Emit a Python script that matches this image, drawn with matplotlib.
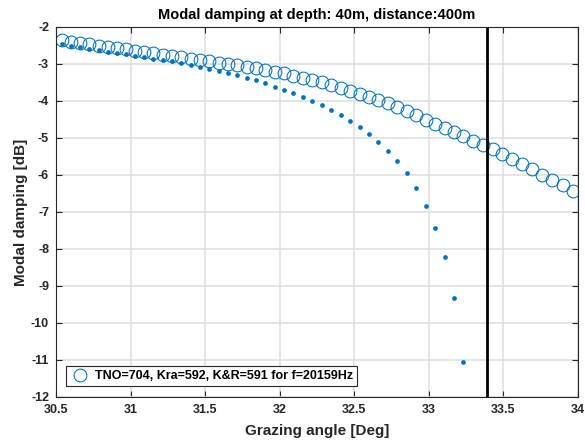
import matplotlib
matplotlib.use("Agg")
import matplotlib.pyplot as plt

plt.rcParams['font.family'] = ['Liberation Sans', 'DejaVu Sans']
plt.rcParams['axes.unicode_minus'] = False

# grazing angles [deg] of the modes
angle = [30.540, 30.601, 30.663, 30.724, 30.785, 30.847, 30.908, 30.969, 31.031, 31.092,
         31.153, 31.215, 31.278, 31.340, 31.403, 31.465, 31.528, 31.591, 31.653, 31.716,
         31.779, 31.841, 31.904, 31.967, 32.029, 32.092, 32.155, 32.219, 32.282, 32.345,
         32.409, 32.472, 32.535, 32.599, 32.662, 32.725, 32.789, 32.852, 32.915, 32.979,
         33.042, 33.105, 33.169, 33.232, 33.297, 33.362, 33.427, 33.493, 33.560, 33.627,
         33.694, 33.761, 33.829, 33.897, 33.965]

# TNO modal damping (circles)
damp_tno = [-2.364, -2.399, -2.435, -2.470, -2.505, -2.537, -2.572, -2.607, -2.642, -2.677,
            -2.713, -2.748, -2.783, -2.818, -2.853, -2.891, -2.926, -2.961, -2.999, -3.036,
            -3.074, -3.112, -3.161, -3.209, -3.255, -3.312, -3.368, -3.425, -3.493, -3.571,
            -3.652, -3.735, -3.816, -3.897, -3.978, -4.065, -4.167, -4.275, -4.389, -4.510,
            -4.626, -4.734, -4.845, -4.955, -5.069, -5.177, -5.293, -5.422, -5.560, -5.706,
            -5.846, -5.989, -6.132, -6.278, -6.429]

# second estimate (dots), only for the first 44 modes
damp_dot = [-2.472, -2.513, -2.553, -2.594, -2.634, -2.669, -2.704, -2.742, -2.780, -2.818,
            -2.853, -2.888, -2.923, -2.977, -3.020, -3.085, -3.139, -3.193, -3.247, -3.309,
            -3.382, -3.439, -3.525, -3.611, -3.700, -3.787, -3.895, -4.003, -4.119, -4.246,
            -4.381, -4.532, -4.704, -4.893, -5.104, -5.347, -5.617, -5.954, -6.351, -6.826,
            -7.430, -8.221, -9.328, -11.047]

critical_angle = 33.39
legend_text = 'TNO=704, Kra=592, K&R=591 for f=20159Hz'
xticks = [30.5, 31, 31.5, 32, 32.5, 33, 33.5, 34]
xticklabels = ['30.5', '31', '31.5', '32', '32.5', '33', '33.5', '34']
yticks = list(range(-12, -1))

blue = '#0072BD'
txt = '#262626'

fig = plt.figure(figsize=(5.85, 4.43), dpi=100)
ax = fig.add_axes([56 / 585, 46 / 443, 522 / 585, 370 / 443])

ax.plot(angle, damp_tno, 'o', mfc='none', mec=blue, ms=9.2, mew=0.75, label=legend_text)
ax.plot(angle[:len(damp_dot)], damp_dot, 'o', color=blue, ms=3.4, mew=0, label='_nolegend_')
ax.axvline(critical_angle, color='black', lw=2)

ax.set_xlim(30.5, 34)
ax.set_ylim(-12, -2)
ax.set_xticks(xticks)
ax.set_xticklabels(xticklabels)
ax.set_yticks(yticks)
ax.grid(True, color='#dedede', lw=1.1)
ax.set_axisbelow(True)
ax.tick_params(direction='in', top=True, right=True, length=4, width=0.8,
               labelsize=9, colors=txt, pad=5)
for lab in ax.get_xticklabels() + ax.get_yticklabels():
    lab.set_fontweight('bold')
for s in ax.spines.values():
    s.set_color(txt)
    s.set_linewidth(0.8)

ax.set_title('Modal damping at depth: 40m, distance:400m', fontsize=10.5,
             fontweight='bold', pad=6)
ax.set_xlabel('Grazing angle [Deg]', fontsize=11, fontweight='bold', color=txt, labelpad=6)
ax.set_ylabel('Modal damping [dB]', fontsize=11, fontweight='bold', color=txt, labelpad=2)

leg = ax.legend(loc='lower left', bbox_to_anchor=(0.019, 0.03), borderaxespad=0,
                fancybox=False, framealpha=1, edgecolor=txt, borderpad=0.3,
                handletextpad=0.4, handlelength=1.6,
                prop={'size': 9, 'weight': 'bold'})
leg.get_frame().set_linewidth(0.8)

fig.savefig('out.png', dpi=100)
